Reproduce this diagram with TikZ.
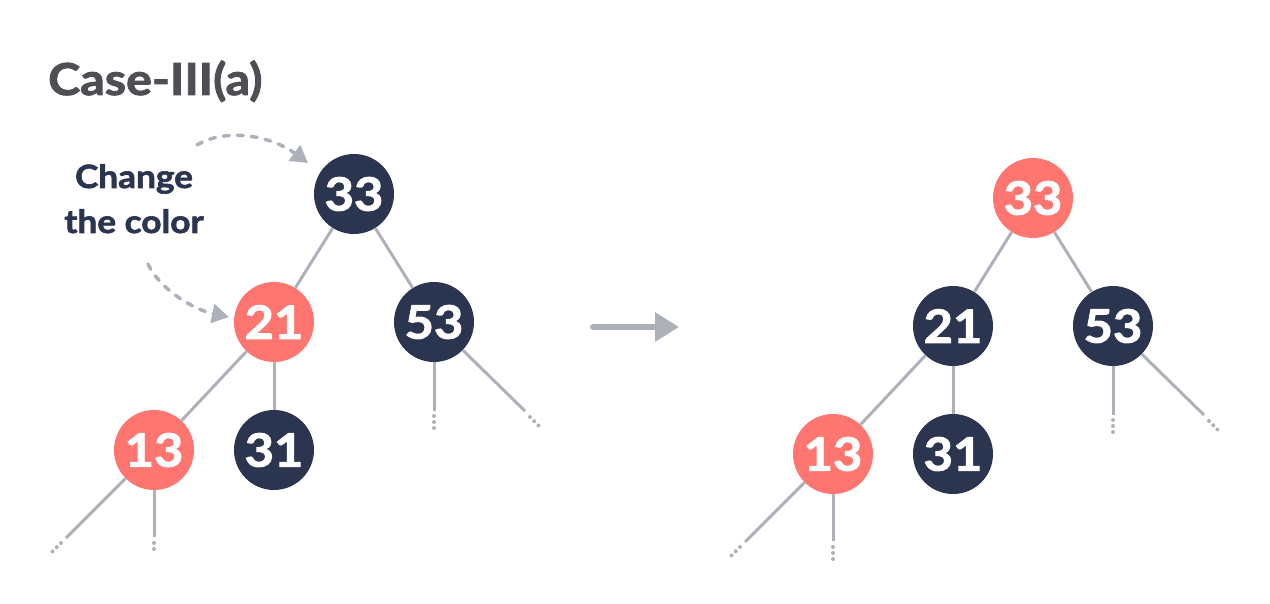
\documentclass[tikz,border=0pt]{standalone}
\usepackage{fontspec}
\setmainfont{Lato}
\newfontfamily\heavy{Lato}[BoldFeatures={FakeBold=2,FakeStretch=1.1}]
\usetikzlibrary{arrows.meta}
\definecolor{navy}{HTML}{2C3550}
\definecolor{redn}{HTML}{FF7570}
\definecolor{edgegray}{HTML}{ADB2BA}
\definecolor{titlegray}{HTML}{4E4F54}
\tikzset{
  tnode/.style={circle, minimum size=80pt, inner sep=0pt, text=white, font=\heavy\bfseries\fontsize{46}{46}\selectfont},
  bnode/.style={tnode, fill=navy},
  rnode/.style={tnode, fill=redn},
  edge/.style={draw=edgegray, line width=3pt},
  dotsline/.style={draw=edgegray, line width=4pt, line cap=round, dash pattern=on 0pt off 6pt},
  hintarrow/.style={draw=edgegray, line width=3.5pt, line cap=round, dash pattern=on 6pt off 8pt,
     -{Triangle[length=17pt,width=19pt]}},
  mainarrow/.style={draw=edgegray, line width=6pt, line cap=round, -{Triangle[length=24pt,width=28pt]}},
  hinttext/.style={text=navy, font=\heavy\bfseries\fontsize{32}{32}\selectfont, anchor=base, inner sep=0pt},
}
\begin{document}
\begin{tikzpicture}[x=1pt,y=-1pt]
\useasboundingbox (0,0) rectangle (1270,604);
\fill[white] (0,0) rectangle (1270,604);

\node[text=titlegray, font=\heavy\bfseries\fontsize{44}{44}\selectfont, anchor=base west, inner sep=0pt] (title) at (48,95) {Case-III(a)};

\node[hinttext] (hint1) at (134,188) {Change};
\node[hinttext] (hint2) at (134,233) {the color};

% left tree
\node[bnode] (a33) at (354,194) {33};
\node[rnode] (a21) at (274,322) {21};
\node[bnode] (a53) at (434,322) {53};
\node[rnode] (a13) at (154,450) {13};
\node[bnode] (a31) at (274,450) {31};
\draw[edge] (a33) -- (a21);
\draw[edge] (a33) -- (a53);
\draw[edge] (a21) -- (a13);
\draw[edge] (a21) -- (a31);
\coordinate (a53v) at (434,411); \coordinate (a53vs) at (434,416); \coordinate (a53vd) at (434,428);
\coordinate (a53d) at (525,411); \coordinate (a53ds) at (530,417); \coordinate (a53dd) at (541,428);
\coordinate (a13v) at (154,537); \coordinate (a13vs) at (154,543); \coordinate (a13vd) at (154,555);
\coordinate (a13d) at (66,538);  \coordinate (a13ds) at (61,543); \coordinate (a13dd) at (50,554);
\draw[edge] (a53) -- (a53v); \draw[dotsline] (a53vs) -- (a53vd);
\draw[edge] (a53) -- (a53d); \draw[dotsline] (a53ds) -- (a53dd);
\draw[edge] (a13) -- (a13v); \draw[dotsline] (a13vs) -- (a13vd);
\draw[edge] (a13) -- (a13d); \draw[dotsline] (a13ds) -- (a13dd);

% hint arrows
\coordinate (h1s) at (197,145); \coordinate (h1e) at (308,163);
\coordinate (h2s) at (148,264); \coordinate (h2e) at (229,317);
\draw[hintarrow] (h1s) .. controls (225,128) and (270,135) .. (h1e);
\draw[hintarrow] (h2s) .. controls (160,290) and (195,310) .. (h2e);

% main arrow
\coordinate (m1) at (593,327); \coordinate (m2) at (679,327);
\draw[mainarrow] (m1) -- (m2);

% right tree
\begin{scope}[shift={(679,4)}]
\node[rnode] (b33) at (354,194) {33};
\node[bnode] (b21) at (274,322) {21};
\node[bnode] (b53) at (434,322) {53};
\node[rnode] (b13) at (154,450) {13};
\node[bnode] (b31) at (274,450) {31};
\coordinate (b53v) at (434,411); \coordinate (b53vs) at (434,416); \coordinate (b53vd) at (434,428);
\coordinate (b53d) at (525,411); \coordinate (b53ds) at (530,417); \coordinate (b53dd) at (541,428);
\coordinate (b13v) at (154,537); \coordinate (b13vs) at (154,543); \coordinate (b13vd) at (154,555);
\coordinate (b13d) at (66,538);  \coordinate (b13ds) at (61,543); \coordinate (b13dd) at (50,554);
\end{scope}
\draw[edge] (b33) -- (b21);
\draw[edge] (b33) -- (b53);
\draw[edge] (b21) -- (b13);
\draw[edge] (b21) -- (b31);
\draw[edge] (b53) -- (b53v); \draw[dotsline] (b53vs) -- (b53vd);
\draw[edge] (b53) -- (b53d); \draw[dotsline] (b53ds) -- (b53dd);
\draw[edge] (b13) -- (b13v); \draw[dotsline] (b13vs) -- (b13vd);
\draw[edge] (b13) -- (b13d); \draw[dotsline] (b13ds) -- (b13dd);
\end{tikzpicture}
\end{document}
